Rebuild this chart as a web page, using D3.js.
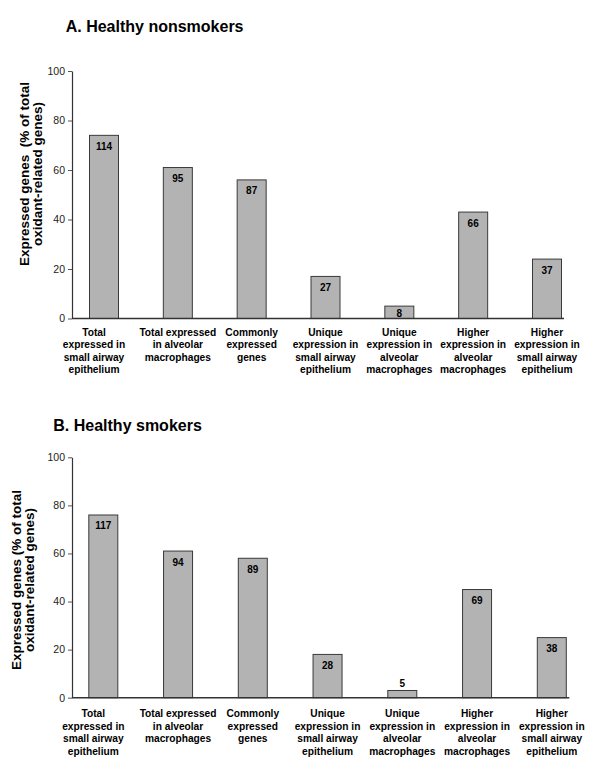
<!DOCTYPE html>
<html>
<head>
<meta charset="utf-8">
<script src="https://cdn.jsdelivr.net/npm/d3@7"></script>
<style>
  html, body { margin: 0; padding: 0; background: #fff; }
  svg { display: block; font-family: "Liberation Sans", Arial, sans-serif; }
</style>
</head>
<body>
<svg id="chart" width="600" height="775"></svg>
<script>
// ---------- data ----------
const categories = [
  "Total\nexpressed in\nsmall airway\nepithelium",
  "Total expressed\nin alveolar\nmacrophages",
  "Commonly\nexpressed\ngenes",
  "Unique\nexpression in\nsmall airway\nepithelium",
  "Unique\nexpression in\nalveolar\nmacrophages",
  "Higher\nexpression in\nalveolar\nmacrophages",
  "Higher\nexpression in\nsmall airway\nepithelium"
];
const nonsmokersPct = [74, 61, 56, 17, 5, 43, 24];
const nonsmokersCounts = [114, 95, 87, 27, 8, 66, 37];
const smokersPct = [76, 61, 58, 18, 3, 45, 25];
const smokersCounts = [117, 94, 89, 28, 5, 69, 38];
const yTicks = [0, 20, 40, 60, 80, 100];
const titles = ["A. Healthy nonsmokers", "B. Healthy smokers"];
const yTitleA = ["Expressed genes \u00a0(% of total", "oxidant-related genes)"];
const yTitleB = ["Expressed genes (% of total", "oxidant-related genes)"];

// ---------- layout ----------
const panels = [
  { title: titles[0], pct: nonsmokersPct, counts: nonsmokersCounts, yTitle: yTitleA,
    titleX: 65.7, titleY: 31.7, y0: 318.5, y1: 71, axisX: 72, axisEnd: 564,
    barStart: 104, barEnd: 547, yTitleCY: 174, yTitleX: [29, 42.2], labelY: 335.7 },
  { title: titles[1], pct: smokersPct, counts: smokersCounts, yTitle: yTitleB,
    titleX: 53.3, titleY: 430.7, y0: 697.7, y1: 457.3, axisX: 72, axisEnd: 569.3,
    barStart: 103.3, barEnd: 551.8, yTitleCY: 580, yTitleX: [21.2, 34.2], labelY: 717.3 }
];
const barWidth = 29;
const lineH = 12.4;

const svg = d3.select("#chart");

panels.forEach(p => {
  const g = svg.append("g");
  const y = d3.scaleLinear().domain([0, 100]).range([p.y0, p.y1]);
  const x = d3.scalePoint().domain(d3.range(categories.length)).range([p.barStart, p.barEnd]);

  // title
  g.append("text")
    .attr("x", p.titleX).attr("y", p.titleY)
    .attr("font-size", 16).attr("font-weight", "bold").attr("fill", "#000")
    .text(p.title);

  // y title
  p.yTitle.forEach((t, i) => {
    g.append("text")
      .attr("transform", `translate(${p.yTitleX[i]},${p.yTitleCY}) rotate(-90)`)
      .attr("text-anchor", "middle")
      .attr("font-size", 13.5).attr("font-weight", "bold").attr("fill", "#000")
      .text(t);
  });

  // bars
  g.selectAll("rect.bar").data(p.pct).enter().append("rect")
    .attr("class", "bar")
    .attr("x", (d, i) => x(i) - barWidth / 2)
    .attr("y", d => y(d))
    .attr("width", barWidth)
    .attr("height", d => y(0) - y(d))
    .attr("fill", "#b3b3b3")
    .attr("stroke", "#3a3a3a")
    .attr("stroke-width", 1);

  // value labels
  g.selectAll("text.val").data(p.counts).enter().append("text")
    .attr("class", "val")
    .attr("x", (d, i) => x(i))
    .attr("y", (d, i) => {
      const top = y(p.pct[i]);
      const h = y(0) - top;
      if (h < 9) return top - 3;
      return Math.min(top + 14.5, y(0) - 1.5);
    })
    .attr("text-anchor", "middle")
    .attr("font-size", 10).attr("font-weight", "bold").attr("fill", "#000")
    .text(d => d);

  // y axis
  const yAxis = d3.axisLeft(y).tickValues(yTicks).tickSizeInner(4).tickSizeOuter(0).tickPadding(3);
  const ya = g.append("g").attr("transform", `translate(${p.axisX},0)`).call(yAxis);
  ya.select(".domain").attr("stroke", "#333").attr("stroke-width", 1.2);
  ya.selectAll(".tick line").attr("stroke", "#555");
  ya.selectAll(".tick text").attr("font-size", 10.5).attr("fill", "#222")
    .attr("font-family", "'Liberation Sans', Arial, sans-serif");

  // x axis line
  g.append("line")
    .attr("x1", p.axisX).attr("x2", p.axisEnd)
    .attr("y1", y(0)).attr("y2", y(0))
    .attr("stroke", "#333").attr("stroke-width", 1.4);

  // category labels
  categories.forEach((c, i) => {
    const cx = i === 0 ? x(i) - 10 : x(i);
    const t = g.append("text")
      .attr("text-anchor", "middle")
      .attr("font-size", 10.2).attr("font-weight", "bold").attr("fill", "#000");
    c.split("\n").forEach((line, j) => {
      t.append("tspan").attr("x", cx).attr("y", p.labelY + j * lineH).text(line);
    });
  });
});
</script>
</body>
</html>
